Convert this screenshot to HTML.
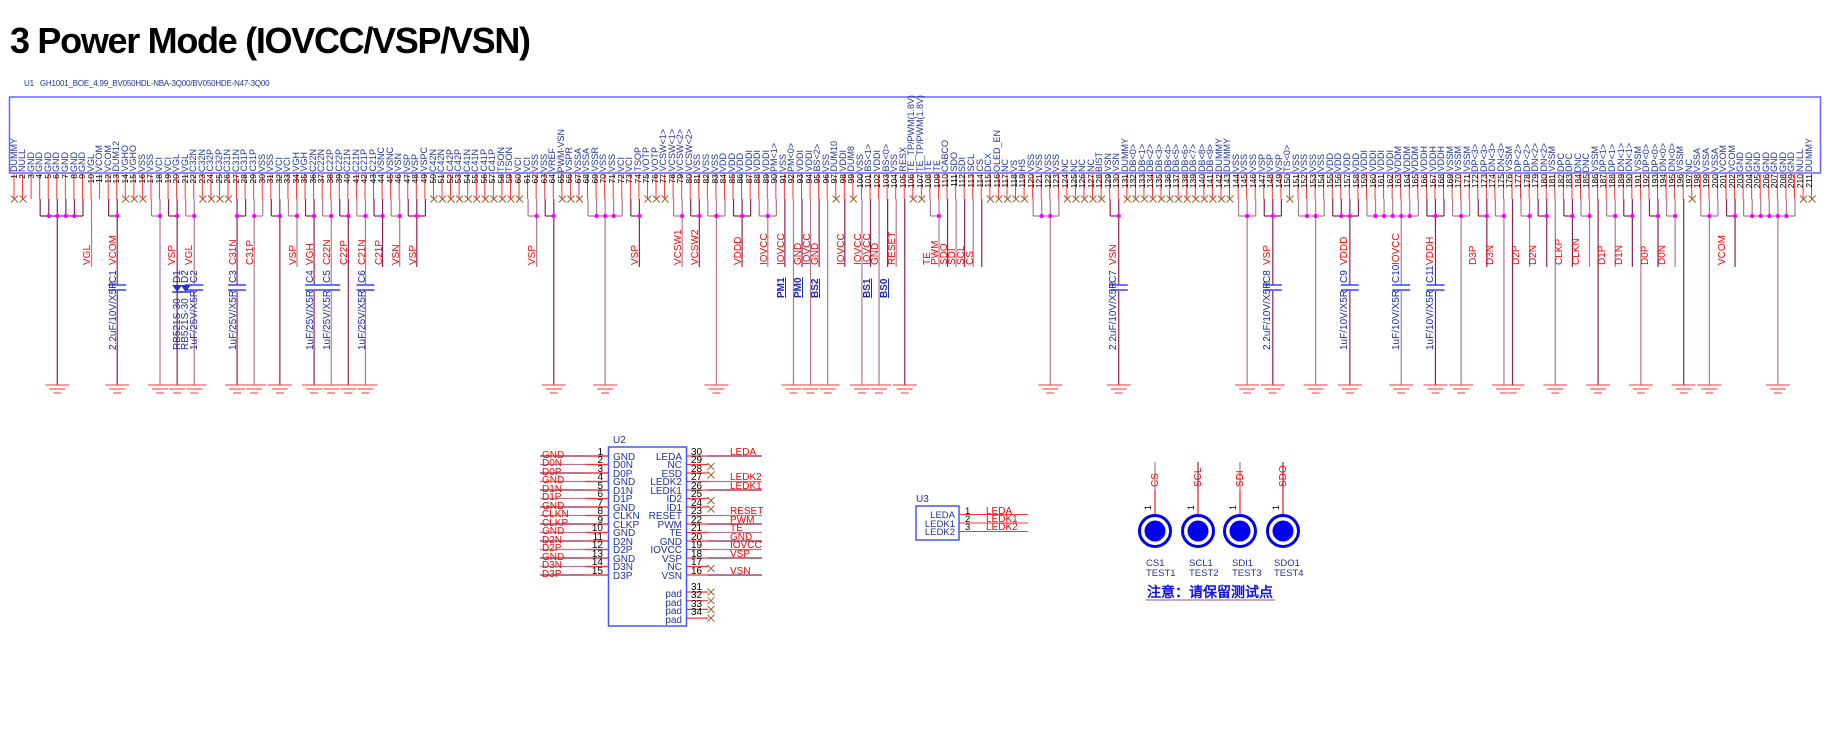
<!DOCTYPE html>
<html><head><meta charset="utf-8">
<style>
html,body{margin:0;padding:0;background:#fff;width:1834px;height:754px;overflow:hidden;position:relative;font-family:"Liberation Sans",Arial,sans-serif}
#title{position:absolute;left:10px;top:20px;font-size:36px;font-weight:bold;letter-spacing:-1.3px;color:#000}
#u1{position:absolute;left:24px;top:79px;font-size:8px;color:#223399;letter-spacing:-0.2px}
.row{position:absolute;left:9.72px;display:flex}
.row .c{width:8.56px;display:flex;flex-direction:column;align-items:center}
.row span{writing-mode:vertical-rl;transform:rotate(180deg);white-space:nowrap;line-height:8.56px}
#names{top:100px;height:72px}
#names .c{justify-content:flex-end;height:72px}
#names span{font-size:9px;color:#223399}
#nums{top:174px;height:16px}
#nums .c{justify-content:flex-start;height:16px}
#nums span{font-size:8.5px;color:#000}
svg{position:absolute;left:0;top:0}
svg text{font-family:"Liberation Sans",Arial,sans-serif}
</style></head><body>
<svg width="1834" height="754" id="g">
<defs><pattern id="pp" x="13.5" y="0" width="8.56" height="30" patternUnits="userSpaceOnUse"><rect x="0" y="0" width="1" height="30" fill="#f33"/></pattern></defs>
<rect x="9.5" y="97" width="1811" height="76" fill="none" stroke="#6666ff" stroke-width="1.5"/>
<rect x="13" y="174" width="1805" height="25" fill="url(#pp)"/>
<g id="wires"></g>
<g font-size="10" fill="#f00" id="nl">
<text transform="translate(90,265) rotate(-90)">VGL</text>
<text transform="translate(116,265) rotate(-90)">VCOM</text>
<text transform="translate(175,265) rotate(-90)">VSP</text>
<text transform="translate(192,265) rotate(-90)">VGL</text>
<text transform="translate(236,265) rotate(-90)">C31N</text>
<text transform="translate(253,265) rotate(-90)">C31P</text>
<text transform="translate(296,265) rotate(-90)">VSP</text>
<text transform="translate(313,265) rotate(-90)">VGH</text>
<text transform="translate(330,265) rotate(-90)">C22N</text>
<text transform="translate(347,265) rotate(-90)">C22P</text>
<text transform="translate(365,265) rotate(-90)">C21N</text>
<text transform="translate(382,265) rotate(-90)">C21P</text>
<text transform="translate(399,265) rotate(-90)">VSN</text>
<text transform="translate(416,265) rotate(-90)">VSP</text>
<text transform="translate(535,265) rotate(-90)">VSP</text>
<text transform="translate(638,265) rotate(-90)">VSP</text>
<text transform="translate(681,265) rotate(-90)">VCSW1</text>
<text transform="translate(698,265) rotate(-90)">VCSW2</text>
<text transform="translate(741,265) rotate(-90)">VDDD</text>
<text transform="translate(767,265) rotate(-90)">IOVCC</text>
<text transform="translate(784,265) rotate(-90)">IOVCC</text>
<text transform="translate(801,265) rotate(-90)">GND</text>
<text transform="translate(810,265) rotate(-90)">IOVCC</text>
<text transform="translate(818,265) rotate(-90)">GND</text>
<text transform="translate(844,265) rotate(-90)">IOVCC</text>
<text transform="translate(861,265) rotate(-90)">IOVCC</text>
<text transform="translate(870,265) rotate(-90)">IOVCC</text>
<text transform="translate(878,265) rotate(-90)">GND</text>
<text transform="translate(895,265) rotate(-90)">RESET</text>
<text transform="translate(930,265) rotate(-90)">TE</text>
<text transform="translate(938,265) rotate(-90)">PWM</text>
<text transform="translate(947,265) rotate(-90)">SDO</text>
<text transform="translate(955,265) rotate(-90)">SDI</text>
<text transform="translate(964,265) rotate(-90)">SCL</text>
<text transform="translate(973,265) rotate(-90)">CS</text>
<text transform="translate(1116,265) rotate(-90)">VSN</text>
<text transform="translate(1270,265) rotate(-90)">VSP</text>
<text transform="translate(1347,265) rotate(-90)">VDDD</text>
<text transform="translate(1399,265) rotate(-90)">IOVCC</text>
<text transform="translate(1433,265) rotate(-90)">VDDH</text>
<text transform="translate(1476,265) rotate(-90)">D3P</text>
<text transform="translate(1493,265) rotate(-90)">D3N</text>
<text transform="translate(1519,265) rotate(-90)">D2P</text>
<text transform="translate(1536,265) rotate(-90)">D2N</text>
<text transform="translate(1562,265) rotate(-90)">CLKP</text>
<text transform="translate(1579,265) rotate(-90)">CLKN</text>
<text transform="translate(1605,265) rotate(-90)">D1P</text>
<text transform="translate(1622,265) rotate(-90)">D1N</text>
<text transform="translate(1648,265) rotate(-90)">D0P</text>
<text transform="translate(1665,265) rotate(-90)">D0N</text>
<text transform="translate(1725,265) rotate(-90)">VCOM</text>
</g>
<g font-size="10" fill="#1a2aaa">
<text transform="translate(116,283) rotate(-90)">C1</text>
<text transform="translate(116,350) rotate(-90)">2.2uF/10V/X5R</text>
<text transform="translate(180,283) rotate(-90)">D1</text>
<text transform="translate(180,350) rotate(-90)">RB521S-30</text>
<text transform="translate(188,283) rotate(-90)">D2</text>
<text transform="translate(188,350) rotate(-90)">RB521S-30</text>
<text transform="translate(197,283) rotate(-90)">C2</text>
<text transform="translate(197,350) rotate(-90)">1uF/25V/X5R</text>
<text transform="translate(236,283) rotate(-90)">C3</text>
<text transform="translate(236,350) rotate(-90)">1uF/25V/X5R</text>
<text transform="translate(313,283) rotate(-90)">C4</text>
<text transform="translate(313,350) rotate(-90)">1uF/25V/X5R</text>
<text transform="translate(330,283) rotate(-90)">C5</text>
<text transform="translate(330,350) rotate(-90)">1uF/25V/X5R</text>
<text transform="translate(365,283) rotate(-90)">C6</text>
<text transform="translate(365,350) rotate(-90)">1uF/25V/X5R</text>
<text transform="translate(1116,283) rotate(-90)">C7</text>
<text transform="translate(1116,350) rotate(-90)">2.2uF/10V/X5R</text>
<text transform="translate(1270,283) rotate(-90)">C8</text>
<text transform="translate(1270,350) rotate(-90)">2.2uF/10V/X5R</text>
<text transform="translate(1347,283) rotate(-90)">C9</text>
<text transform="translate(1347,350) rotate(-90)">1uF/10V/X5R</text>
<text transform="translate(1399,283) rotate(-90)">C10</text>
<text transform="translate(1399,350) rotate(-90)">1uF/10V/X5R</text>
<text transform="translate(1433,283) rotate(-90)">C11</text>
<text transform="translate(1433,350) rotate(-90)">1uF/10V/X5R</text>
<g font-weight="bold" text-decoration="underline">
<text transform="translate(784,298) rotate(-90)">PM1</text>
<text transform="translate(801,298) rotate(-90)">PM0</text>
<text transform="translate(818,298) rotate(-90)">BS2</text>
<text transform="translate(870,298) rotate(-90)">BS1</text>
<text transform="translate(887,298) rotate(-90)">BS0</text>
</g>
</g>
<!-- U2 -->
<rect x="608.5" y="447" width="78" height="179" fill="none" stroke="#4455ff" stroke-width="1.5"/>
<text x="613" y="443" font-size="10" fill="#223399">U2</text>
<g id="u2w"></g>
<g font-size="10" fill="#f00">
<text x="542" y="458">GND</text><text x="542" y="466">D0N</text><text x="542" y="475">D0P</text><text x="542" y="483">GND</text><text x="542" y="492">D1N</text><text x="542" y="500">D1P</text><text x="542" y="509">GND</text><text x="542" y="517">CLKN</text><text x="542" y="526">CLKP</text><text x="542" y="534">GND</text><text x="542" y="543">D2N</text><text x="542" y="551">D2P</text><text x="542" y="560">GND</text><text x="542" y="568">D3N</text><text x="542" y="577">D3P</text>
<text x="730" y="455">LEDA</text><text x="730" y="480">LEDK2</text><text x="730" y="489">LEDK1</text><text x="730" y="514">RESET</text><text x="730" y="523">PWM</text><text x="730" y="531">TE</text><text x="730" y="540">GND</text><text x="730" y="548">IOVCC</text><text x="730" y="557">VSP</text><text x="730" y="574">VSN</text>
</g>
<g font-size="10" fill="#000" text-anchor="end">
<text x="603" y="455">1</text><text x="603" y="463">2</text><text x="603" y="472">3</text><text x="603" y="480">4</text><text x="603" y="489">5</text><text x="603" y="497">6</text><text x="603" y="506">7</text><text x="603" y="514">8</text><text x="603" y="523">9</text><text x="603" y="531">10</text><text x="603" y="540">11</text><text x="603" y="548">12</text><text x="603" y="557">13</text><text x="603" y="565">14</text><text x="603" y="574">15</text>
</g>
<g font-size="10" fill="#000">
<text x="691" y="455">30</text><text x="691" y="463">29</text><text x="691" y="472">28</text><text x="691" y="480">27</text><text x="691" y="489">26</text><text x="691" y="497">25</text><text x="691" y="506">24</text><text x="691" y="514">23</text><text x="691" y="523">22</text><text x="691" y="531">21</text><text x="691" y="540">20</text><text x="691" y="548">19</text><text x="691" y="557">18</text><text x="691" y="565">17</text><text x="691" y="574">16</text>
<text x="691" y="590">31</text><text x="691" y="598">32</text><text x="691" y="607">33</text><text x="691" y="615">34</text>
</g>
<g font-size="10" fill="#223399">
<text x="613" y="460">GND</text><text x="613" y="468">D0N</text><text x="613" y="477">D0P</text><text x="613" y="485">GND</text><text x="613" y="494">D1N</text><text x="613" y="502">D1P</text><text x="613" y="511">GND</text><text x="613" y="519">CLKN</text><text x="613" y="528">CLKP</text><text x="613" y="536">GND</text><text x="613" y="545">D2N</text><text x="613" y="553">D2P</text><text x="613" y="562">GND</text><text x="613" y="570">D3N</text><text x="613" y="579">D3P</text>
</g>
<g font-size="10" fill="#223399" text-anchor="end">
<text x="682" y="460">LEDA</text><text x="682" y="468">NC</text><text x="682" y="477">ESD</text><text x="682" y="485">LEDK2</text><text x="682" y="494">LEDK1</text><text x="682" y="502">ID2</text><text x="682" y="511">ID1</text><text x="682" y="519">RESET</text><text x="682" y="528">PWM</text><text x="682" y="536">TE</text><text x="682" y="545">GND</text><text x="682" y="553">IOVCC</text><text x="682" y="562">VSP</text><text x="682" y="570">NC</text><text x="682" y="579">VSN</text>
<text x="682" y="597">pad</text><text x="682" y="606">pad</text><text x="682" y="614">pad</text><text x="682" y="623">pad</text>
</g>
<!-- U3 -->
<rect x="916" y="506" width="43" height="34" fill="none" stroke="#4455ff" stroke-width="1.5"/>
<text x="916" y="502" font-size="10" fill="#223399">U3</text>
<g font-size="9.5" fill="#223399" text-anchor="end"><text x="955" y="518">LEDA</text><text x="955" y="527">LEDK1</text><text x="955" y="535">LEDK2</text></g>
<g font-size="9.5" fill="#000"><text x="965" y="514">1</text><text x="965" y="522">2</text><text x="965" y="530">3</text></g>
<g font-size="10" fill="#f00"><text x="986" y="514">LEDA</text><text x="986" y="522">LEDK1</text><text x="986" y="530">LEDK2</text></g>
<g stroke="#f33" stroke-width="1"><line x1="959" y1="514.5" x2="1028" y2="514.5"/><line x1="959" y1="523" x2="1028" y2="523"/><line x1="959" y1="531.5" x2="1028" y2="531.5"/></g>
<!-- test points -->
<g id="tp"></g>
<g font-size="10" fill="#f00">
<text transform="translate(1158,487) rotate(-90)">CS</text>
<text transform="translate(1201,487) rotate(-90)">SCL</text>
<text transform="translate(1243,487) rotate(-90)">SDI</text>
<text transform="translate(1286,487) rotate(-90)">SDO</text>
</g>
<g font-size="9" fill="#000">
<text transform="translate(1151,510) rotate(-90)">1</text><text transform="translate(1194,510) rotate(-90)">1</text><text transform="translate(1236,510) rotate(-90)">1</text><text transform="translate(1279,510) rotate(-90)">1</text>
</g>
<g font-size="9.5" fill="#223399">
<text x="1146" y="566">CS1</text><text x="1146" y="576">TEST1</text>
<text x="1189" y="566">SCL1</text><text x="1189" y="576">TEST2</text>
<text x="1232" y="566">SDI1</text><text x="1232" y="576">TEST3</text>
<text x="1274" y="566">SDO1</text><text x="1274" y="576">TEST4</text>
</g>
<text x="1147" y="597" font-size="14" font-weight="bold" fill="#1010ee" font-family="'Liberation Sans','Noto Sans CJK SC',sans-serif">注意：请保留测试点</text>
<line x1="1146" y1="600" x2="1275" y2="600" stroke="#b07898" stroke-width="1.2"/>
</svg>
<div id="title">3 Power Mode (IOVCC/VSP/VSN)</div>
<div id="u1">U1&nbsp;&nbsp;&nbsp;GH1001_BOE_4.99_BV050HDL-NBA-3Q00/BV050HDE-N47-3Q00</div>
<div class="row" id="names">
<div class="c"><span>DUMMY</span></div><div class="c"><span>NULL</span></div><div class="c"><span>GND</span></div><div class="c"><span>GND</span></div><div class="c"><span>GND</span></div><div class="c"><span>GND</span></div><div class="c"><span>GND</span></div><div class="c"><span>GND</span></div><div class="c"><span>GND</span></div><div class="c"><span>VGL</span></div>
<div class="c"><span>VCOM</span></div><div class="c"><span>VCOM</span></div><div class="c"><span>DUM12</span></div><div class="c"><span>VGHO</span></div><div class="c"><span>VGHO</span></div><div class="c"><span>VSS</span></div><div class="c"><span>VSS</span></div><div class="c"><span>VCI</span></div><div class="c"><span>VCI</span></div><div class="c"><span>VGL</span></div>
<div class="c"><span>VGL</span></div><div class="c"><span>C32N</span></div><div class="c"><span>C32N</span></div><div class="c"><span>C32P</span></div><div class="c"><span>C32P</span></div><div class="c"><span>C31N</span></div><div class="c"><span>C31N</span></div><div class="c"><span>C31P</span></div><div class="c"><span>C31P</span></div><div class="c"><span>VSS</span></div>
<div class="c"><span>VSS</span></div><div class="c"><span>VCI</span></div><div class="c"><span>VCI</span></div><div class="c"><span>VGH</span></div><div class="c"><span>VGH</span></div><div class="c"><span>C22N</span></div><div class="c"><span>C22N</span></div><div class="c"><span>C22P</span></div><div class="c"><span>C22P</span></div><div class="c"><span>C21N</span></div>
<div class="c"><span>C21N</span></div><div class="c"><span>C21P</span></div><div class="c"><span>C21P</span></div><div class="c"><span>VSNC</span></div><div class="c"><span>VSNC</span></div><div class="c"><span>VSN</span></div><div class="c"><span>VSP</span></div><div class="c"><span>VSP</span></div><div class="c"><span>VSPC</span></div><div class="c"><span>C42N</span></div>
<div class="c"><span>C42N</span></div><div class="c"><span>C42P</span></div><div class="c"><span>C42P</span></div><div class="c"><span>C41N</span></div><div class="c"><span>C41N</span></div><div class="c"><span>C41P</span></div><div class="c"><span>C41P</span></div><div class="c"><span>TSON</span></div><div class="c"><span>TSON</span></div><div class="c"><span>VCI</span></div>
<div class="c"><span>VCI</span></div><div class="c"><span>VSS</span></div><div class="c"><span>VSS</span></div><div class="c"><span>VREF</span></div><div class="c"><span>PWM-VSN</span></div><div class="c"><span>VSPR</span></div><div class="c"><span>VSSA</span></div><div class="c"><span>VSSA</span></div><div class="c"><span>VSSR</span></div><div class="c"><span>VSS</span></div>
<div class="c"><span>VSS</span></div><div class="c"><span>VCI</span></div><div class="c"><span>VCI</span></div><div class="c"><span>TSOP</span></div><div class="c"><span>VOTP</span></div><div class="c"><span>VOTP</span></div><div class="c"><span>VCSW&lt;1&gt;</span></div><div class="c"><span>VCSW&lt;1&gt;</span></div><div class="c"><span>VCSW&lt;2&gt;</span></div><div class="c"><span>VCSW&lt;2&gt;</span></div>
<div class="c"><span>VSS</span></div><div class="c"><span>VSS</span></div><div class="c"><span>VSS</span></div><div class="c"><span>VDD</span></div><div class="c"><span>VDD</span></div><div class="c"><span>VDD</span></div><div class="c"><span>VDDI</span></div><div class="c"><span>VDDI</span></div><div class="c"><span>VDDI</span></div><div class="c"><span>PM&lt;1&gt;</span></div>
<div class="c"><span>VSS</span></div><div class="c"><span>PM&lt;0&gt;</span></div><div class="c"><span>VDDI</span></div><div class="c"><span>VDDI</span></div><div class="c"><span>BS&lt;2&gt;</span></div><div class="c"><span>VSS</span></div><div class="c"><span>DUM10</span></div><div class="c"><span>VDDI</span></div><div class="c"><span>DUM8</span></div><div class="c"><span>VSS</span></div>
<div class="c"><span>BS&lt;1&gt;</span></div><div class="c"><span>VDDI</span></div><div class="c"><span>BS&lt;0&gt;</span></div><div class="c"><span>VSS</span></div><div class="c"><span>RESX</span></div><div class="c"><span>TE_TP/PWM(1.8V)</span></div><div class="c"><span>TE_TP/PWM(1.8V)</span></div><div class="c"><span>TE</span></div><div class="c"><span>TE</span></div><div class="c"><span>CABCO</span></div>
<div class="c"><span>SDO</span></div><div class="c"><span>SDI</span></div><div class="c"><span>SCL</span></div><div class="c"><span>CS</span></div><div class="c"><span>DCX</span></div><div class="c"><span>OLED_EN</span></div><div class="c"><span>NC</span></div><div class="c"><span>VS</span></div><div class="c"><span>HS</span></div><div class="c"><span>VSS</span></div>
<div class="c"><span>VSS</span></div><div class="c"><span>VSS</span></div><div class="c"><span>VSS</span></div><div class="c"><span>NC</span></div><div class="c"><span>NC</span></div><div class="c"><span>NC</span></div><div class="c"><span>NC</span></div><div class="c"><span>BIST</span></div><div class="c"><span>VSN</span></div><div class="c"><span>VSN</span></div>
<div class="c"><span>DUMMY</span></div><div class="c"><span>DB&lt;0&gt;</span></div><div class="c"><span>DB&lt;1&gt;</span></div><div class="c"><span>DB&lt;2&gt;</span></div><div class="c"><span>DB&lt;3&gt;</span></div><div class="c"><span>DB&lt;4&gt;</span></div><div class="c"><span>DB&lt;5&gt;</span></div><div class="c"><span>DB&lt;6&gt;</span></div><div class="c"><span>DB&lt;7&gt;</span></div><div class="c"><span>DB&lt;8&gt;</span></div>
<div class="c"><span>DB&lt;9&gt;</span></div><div class="c"><span>DUMMY</span></div><div class="c"><span>DUMMY</span></div><div class="c"><span>VSS</span></div><div class="c"><span>VSS</span></div><div class="c"><span>VSS</span></div><div class="c"><span>VSP</span></div><div class="c"><span>VSP</span></div><div class="c"><span>VSP</span></div><div class="c"><span>TS&lt;0&gt;</span></div>
<div class="c"><span>VSS</span></div><div class="c"><span>VSS</span></div><div class="c"><span>VSS</span></div><div class="c"><span>VSS</span></div><div class="c"><span>VDD</span></div><div class="c"><span>VDD</span></div><div class="c"><span>VDD</span></div><div class="c"><span>VDD</span></div><div class="c"><span>VDDI</span></div><div class="c"><span>VDDI</span></div>
<div class="c"><span>VDDI</span></div><div class="c"><span>VDDI</span></div><div class="c"><span>VDDM</span></div><div class="c"><span>VDDM</span></div><div class="c"><span>VDDM</span></div><div class="c"><span>VDDH</span></div><div class="c"><span>VDDH</span></div><div class="c"><span>VDDH</span></div><div class="c"><span>VSSM</span></div><div class="c"><span>VSSM</span></div>
<div class="c"><span>VSSM</span></div><div class="c"><span>DP&lt;3&gt;</span></div><div class="c"><span>DP&lt;3&gt;</span></div><div class="c"><span>DN&lt;3&gt;</span></div><div class="c"><span>DN&lt;3&gt;</span></div><div class="c"><span>VSSM</span></div><div class="c"><span>DP&lt;2&gt;</span></div><div class="c"><span>DP&lt;2&gt;</span></div><div class="c"><span>DN&lt;2&gt;</span></div><div class="c"><span>DN&lt;2&gt;</span></div>
<div class="c"><span>VSSM</span></div><div class="c"><span>DPC</span></div><div class="c"><span>DPC</span></div><div class="c"><span>DNC</span></div><div class="c"><span>DNC</span></div><div class="c"><span>VSSM</span></div><div class="c"><span>DP&lt;1&gt;</span></div><div class="c"><span>DP&lt;1&gt;</span></div><div class="c"><span>DN&lt;1&gt;</span></div><div class="c"><span>DN&lt;1&gt;</span></div>
<div class="c"><span>VSSM</span></div><div class="c"><span>DP&lt;0&gt;</span></div><div class="c"><span>DP&lt;0&gt;</span></div><div class="c"><span>DN&lt;0&gt;</span></div><div class="c"><span>DN&lt;0&gt;</span></div><div class="c"><span>VSSM</span></div><div class="c"><span>NC</span></div><div class="c"><span>VSSA</span></div><div class="c"><span>VSSA</span></div><div class="c"><span>VSSA</span></div>
<div class="c"><span>VCOM</span></div><div class="c"><span>VCOM</span></div><div class="c"><span>GND</span></div><div class="c"><span>GND</span></div><div class="c"><span>GND</span></div><div class="c"><span>GND</span></div><div class="c"><span>GND</span></div><div class="c"><span>GND</span></div><div class="c"><span>GND</span></div><div class="c"><span>NULL</span></div>
<div class="c"><span>DUMMY</span></div>
</div>
<div class="row" id="nums">
<div class="c"><span>1</span></div><div class="c"><span>2</span></div><div class="c"><span>3</span></div><div class="c"><span>4</span></div><div class="c"><span>5</span></div><div class="c"><span>6</span></div><div class="c"><span>7</span></div><div class="c"><span>8</span></div><div class="c"><span>9</span></div><div class="c"><span>10</span></div><div class="c"><span>11</span></div><div class="c"><span>12</span></div><div class="c"><span>13</span></div><div class="c"><span>14</span></div><div class="c"><span>15</span></div><div class="c"><span>16</span></div><div class="c"><span>17</span></div><div class="c"><span>18</span></div><div class="c"><span>19</span></div><div class="c"><span>20</span></div><div class="c"><span>21</span></div><div class="c"><span>22</span></div><div class="c"><span>23</span></div><div class="c"><span>24</span></div><div class="c"><span>25</span></div><div class="c"><span>26</span></div><div class="c"><span>27</span></div><div class="c"><span>28</span></div><div class="c"><span>29</span></div><div class="c"><span>30</span></div><div class="c"><span>31</span></div><div class="c"><span>32</span></div><div class="c"><span>33</span></div><div class="c"><span>34</span></div><div class="c"><span>35</span></div><div class="c"><span>36</span></div><div class="c"><span>37</span></div><div class="c"><span>38</span></div><div class="c"><span>39</span></div><div class="c"><span>40</span></div><div class="c"><span>41</span></div><div class="c"><span>42</span></div><div class="c"><span>43</span></div><div class="c"><span>44</span></div><div class="c"><span>45</span></div><div class="c"><span>46</span></div><div class="c"><span>47</span></div><div class="c"><span>48</span></div><div class="c"><span>49</span></div><div class="c"><span>50</span></div><div class="c"><span>51</span></div><div class="c"><span>52</span></div><div class="c"><span>53</span></div><div class="c"><span>54</span></div><div class="c"><span>55</span></div><div class="c"><span>56</span></div><div class="c"><span>57</span></div><div class="c"><span>58</span></div><div class="c"><span>59</span></div><div class="c"><span>60</span></div><div class="c"><span>61</span></div><div class="c"><span>62</span></div><div class="c"><span>63</span></div><div class="c"><span>64</span></div><div class="c"><span>65</span></div><div class="c"><span>66</span></div><div class="c"><span>67</span></div><div class="c"><span>68</span></div><div class="c"><span>69</span></div><div class="c"><span>70</span></div><div class="c"><span>71</span></div><div class="c"><span>72</span></div><div class="c"><span>73</span></div><div class="c"><span>74</span></div><div class="c"><span>75</span></div><div class="c"><span>76</span></div><div class="c"><span>77</span></div><div class="c"><span>78</span></div><div class="c"><span>79</span></div><div class="c"><span>80</span></div><div class="c"><span>81</span></div><div class="c"><span>82</span></div><div class="c"><span>83</span></div><div class="c"><span>84</span></div><div class="c"><span>85</span></div><div class="c"><span>86</span></div><div class="c"><span>87</span></div><div class="c"><span>88</span></div><div class="c"><span>89</span></div><div class="c"><span>90</span></div><div class="c"><span>91</span></div><div class="c"><span>92</span></div><div class="c"><span>93</span></div><div class="c"><span>94</span></div><div class="c"><span>95</span></div><div class="c"><span>96</span></div><div class="c"><span>97</span></div><div class="c"><span>98</span></div><div class="c"><span>99</span></div><div class="c"><span>100</span></div><div class="c"><span>101</span></div><div class="c"><span>102</span></div><div class="c"><span>103</span></div><div class="c"><span>104</span></div><div class="c"><span>105</span></div><div class="c"><span>106</span></div><div class="c"><span>107</span></div><div class="c"><span>108</span></div><div class="c"><span>109</span></div><div class="c"><span>110</span></div><div class="c"><span>111</span></div><div class="c"><span>112</span></div><div class="c"><span>113</span></div><div class="c"><span>114</span></div><div class="c"><span>115</span></div><div class="c"><span>116</span></div><div class="c"><span>117</span></div><div class="c"><span>118</span></div><div class="c"><span>119</span></div><div class="c"><span>120</span></div><div class="c"><span>121</span></div><div class="c"><span>122</span></div><div class="c"><span>123</span></div><div class="c"><span>124</span></div><div class="c"><span>125</span></div><div class="c"><span>126</span></div><div class="c"><span>127</span></div><div class="c"><span>128</span></div><div class="c"><span>129</span></div><div class="c"><span>130</span></div><div class="c"><span>131</span></div><div class="c"><span>132</span></div><div class="c"><span>133</span></div><div class="c"><span>134</span></div><div class="c"><span>135</span></div><div class="c"><span>136</span></div><div class="c"><span>137</span></div><div class="c"><span>138</span></div><div class="c"><span>139</span></div><div class="c"><span>140</span></div><div class="c"><span>141</span></div><div class="c"><span>142</span></div><div class="c"><span>143</span></div><div class="c"><span>144</span></div><div class="c"><span>145</span></div><div class="c"><span>146</span></div><div class="c"><span>147</span></div><div class="c"><span>148</span></div><div class="c"><span>149</span></div><div class="c"><span>150</span></div><div class="c"><span>151</span></div><div class="c"><span>152</span></div><div class="c"><span>153</span></div><div class="c"><span>154</span></div><div class="c"><span>155</span></div><div class="c"><span>156</span></div><div class="c"><span>157</span></div><div class="c"><span>158</span></div><div class="c"><span>159</span></div><div class="c"><span>160</span></div><div class="c"><span>161</span></div><div class="c"><span>162</span></div><div class="c"><span>163</span></div><div class="c"><span>164</span></div><div class="c"><span>165</span></div><div class="c"><span>166</span></div><div class="c"><span>167</span></div><div class="c"><span>168</span></div><div class="c"><span>169</span></div><div class="c"><span>170</span></div><div class="c"><span>171</span></div><div class="c"><span>172</span></div><div class="c"><span>173</span></div><div class="c"><span>174</span></div><div class="c"><span>175</span></div><div class="c"><span>176</span></div><div class="c"><span>177</span></div><div class="c"><span>178</span></div><div class="c"><span>179</span></div><div class="c"><span>180</span></div><div class="c"><span>181</span></div><div class="c"><span>182</span></div><div class="c"><span>183</span></div><div class="c"><span>184</span></div><div class="c"><span>185</span></div><div class="c"><span>186</span></div><div class="c"><span>187</span></div><div class="c"><span>188</span></div><div class="c"><span>189</span></div><div class="c"><span>190</span></div><div class="c"><span>191</span></div><div class="c"><span>192</span></div><div class="c"><span>193</span></div><div class="c"><span>194</span></div><div class="c"><span>195</span></div><div class="c"><span>196</span></div><div class="c"><span>197</span></div><div class="c"><span>198</span></div><div class="c"><span>199</span></div><div class="c"><span>200</span></div><div class="c"><span>201</span></div><div class="c"><span>202</span></div><div class="c"><span>203</span></div><div class="c"><span>204</span></div><div class="c"><span>205</span></div><div class="c"><span>206</span></div><div class="c"><span>207</span></div><div class="c"><span>208</span></div><div class="c"><span>209</span></div><div class="c"><span>210</span></div><div class="c"><span>211</span></div>
</div>
<script>
(function(){
function X(n){return 14.5+(n-1)*8.56;}
var out=[];
function L(x1,y1,x2,y2,c,w){out.push('<line x1="'+x1+'" y1="'+y1+'" x2="'+x2+'" y2="'+y2+'" stroke="'+c+'" stroke-width="'+(w||1)+'"/>');}
function XM(x,y){L(x-3.5,y-3.5,x+3.5,y+3.5,'#a0602d');L(x-3.5,y+3.5,x+3.5,y-3.5,'#a0602d');}
function GND(x,y){L(x-12,y,x+12,y,'#f33');L(x-8,y+4,x+8,y+4,'#f33');L(x-4,y+8,x+4,y+8,'#f33');}
var D='#8b2252',P='#b07898';
var G=385,T=267;
var g=[[4,9,6,G],[10,10,10,T],[12,13,13,G],[17,18,18,G],[19,20,20,G],[21,22,22,G],[27,28,27,G],[29,30,29,G],[31,32,32,G],[33,34,34,T],[35,36,36,G],[37,38,38,G],[39,40,40,G],[41,42,42,G],[43,44,44,T],[45,46,46,T],[47,49,48,T],[61,62,62,T],[63,64,64,G],[68,72,70,G],[73,74,74,T],[78,79,79,T],[80,81,81,T],[82,84,83,G],[85,87,86,T],[88,90,89,T],[91,91,91,T],[92,92,92,G],[93,93,93,T],[94,94,94,G],[95,95,95,T],[96,96,96,G],[98,98,98,T],[100,100,100,G],[101,101,101,T],[102,102,102,G],[103,103,103,T],[104,104,104,T],[105,105,105,G],[108,109,109,T],[110,110,110,T],[111,111,111,T],[112,112,112,T],[113,113,113,T],[114,114,114,T],[120,123,122,G],[129,130,130,G],[144,146,145,G],[147,149,148,G],[151,154,153,G],[155,158,157,G],[159,165,163,G],[166,168,167,G],[169,171,170,G],[172,173,173,T],[174,175,175,G],[176,176,176,G],[177,178,178,T],[179,180,180,T],[181,181,181,G],[182,183,183,T],[184,185,185,T],[186,186,186,G],[187,188,188,T],[189,190,190,T],[191,191,191,G],[192,193,193,T],[194,195,195,T],[196,196,196,G],[198,200,199,G],[201,202,202,T],[203,209,207,G]];
var dots=[];
g.forEach(function(a,i){var c=i%2?P:D;var y=216;
 if(a[0]==a[1]){L(X(a[0]),199,X(a[0]),a[3],c,1.2);}
 else{L(X(a[0]),y,X(a[1]),y,c,1.2);for(var n=a[0];n<=a[1];n++){L(X(n),199,X(n),y,c,1.2);if(n!=a[0]&&n!=a[1]||n==a[2])dots.push(X(n));}
 L(X(a[2]),y,X(a[2]),a[3],c,1.2);}
 if(a[3]==G)GND(X(a[2]),G);});
dots.forEach(function(x){out.push('<circle cx="'+x+'" cy="216" r="2.2" fill="#f0f"/>');});
var xs=[1,2,14,15,16,23,24,25,26,65,66,67,75,76,77,97,99,106,107,115,116,117,118,119,124,125,126,127,128,150,197,210,211];
for(var n=50;n<=60;n++)xs.push(n);for(n=131;n<=143;n++)xs.push(n);
xs.forEach(function(n){XM(X(n),199);});
[13,22,27,36,38,42,130,148,157,163,167].forEach(function(n){var x=X(n);out.push('<rect x="'+(x-9)+'" y="285" width="18" height="6" fill="#fff"/>');L(x-9,285,x+9,285,'#3344ff',1.5);L(x-9,290,x+9,290,'#3344ff',1.5);});
[20,21].forEach(function(n){var x=X(n);out.push('<polygon points="'+(x-5)+',285 '+(x+5)+',285 '+x+',292" fill="#2233dd"/>');L(x-5,292,x+5,292,'#2233dd',1.5);});
for(var i=0;i<15;i++){var y=456+i*8.5;L(540,y,608,y,i%2?P:D,1.2);L(585,y,608,y,'#f33',1.2);}
for(i=0;i<15;i++){var y=456+i*8.5;L(686,y,708,y,'#f33',1.2);}
[0,3,4,7,8,9,10,11,12,14].forEach(function(i){var y=456+i*8.5;L(708,y,762,y,i%2?P:D,1.2);});
[1,2,5,6,13].forEach(function(i){XM(711,456+i*8.5+2);});
for(i=0;i<4;i++){var y=592+i*8.7;L(686,y,708,y,'#f33',1.2);XM(711,y);}
[1155,1198,1240,1283].forEach(function(x,i){L(x,462,x,514,i%2?D:P,1.2);L(x,490,x,514,'#f33',1.2);
 out.push('<circle cx="'+x+'" cy="531" r="15.5" fill="none" stroke="#0000ee" stroke-width="3"/><circle cx="'+x+'" cy="531" r="10.5" fill="#0000ee"/>');});
document.getElementById('wires').innerHTML=out.join('');
})();
</script>
</body></html>
